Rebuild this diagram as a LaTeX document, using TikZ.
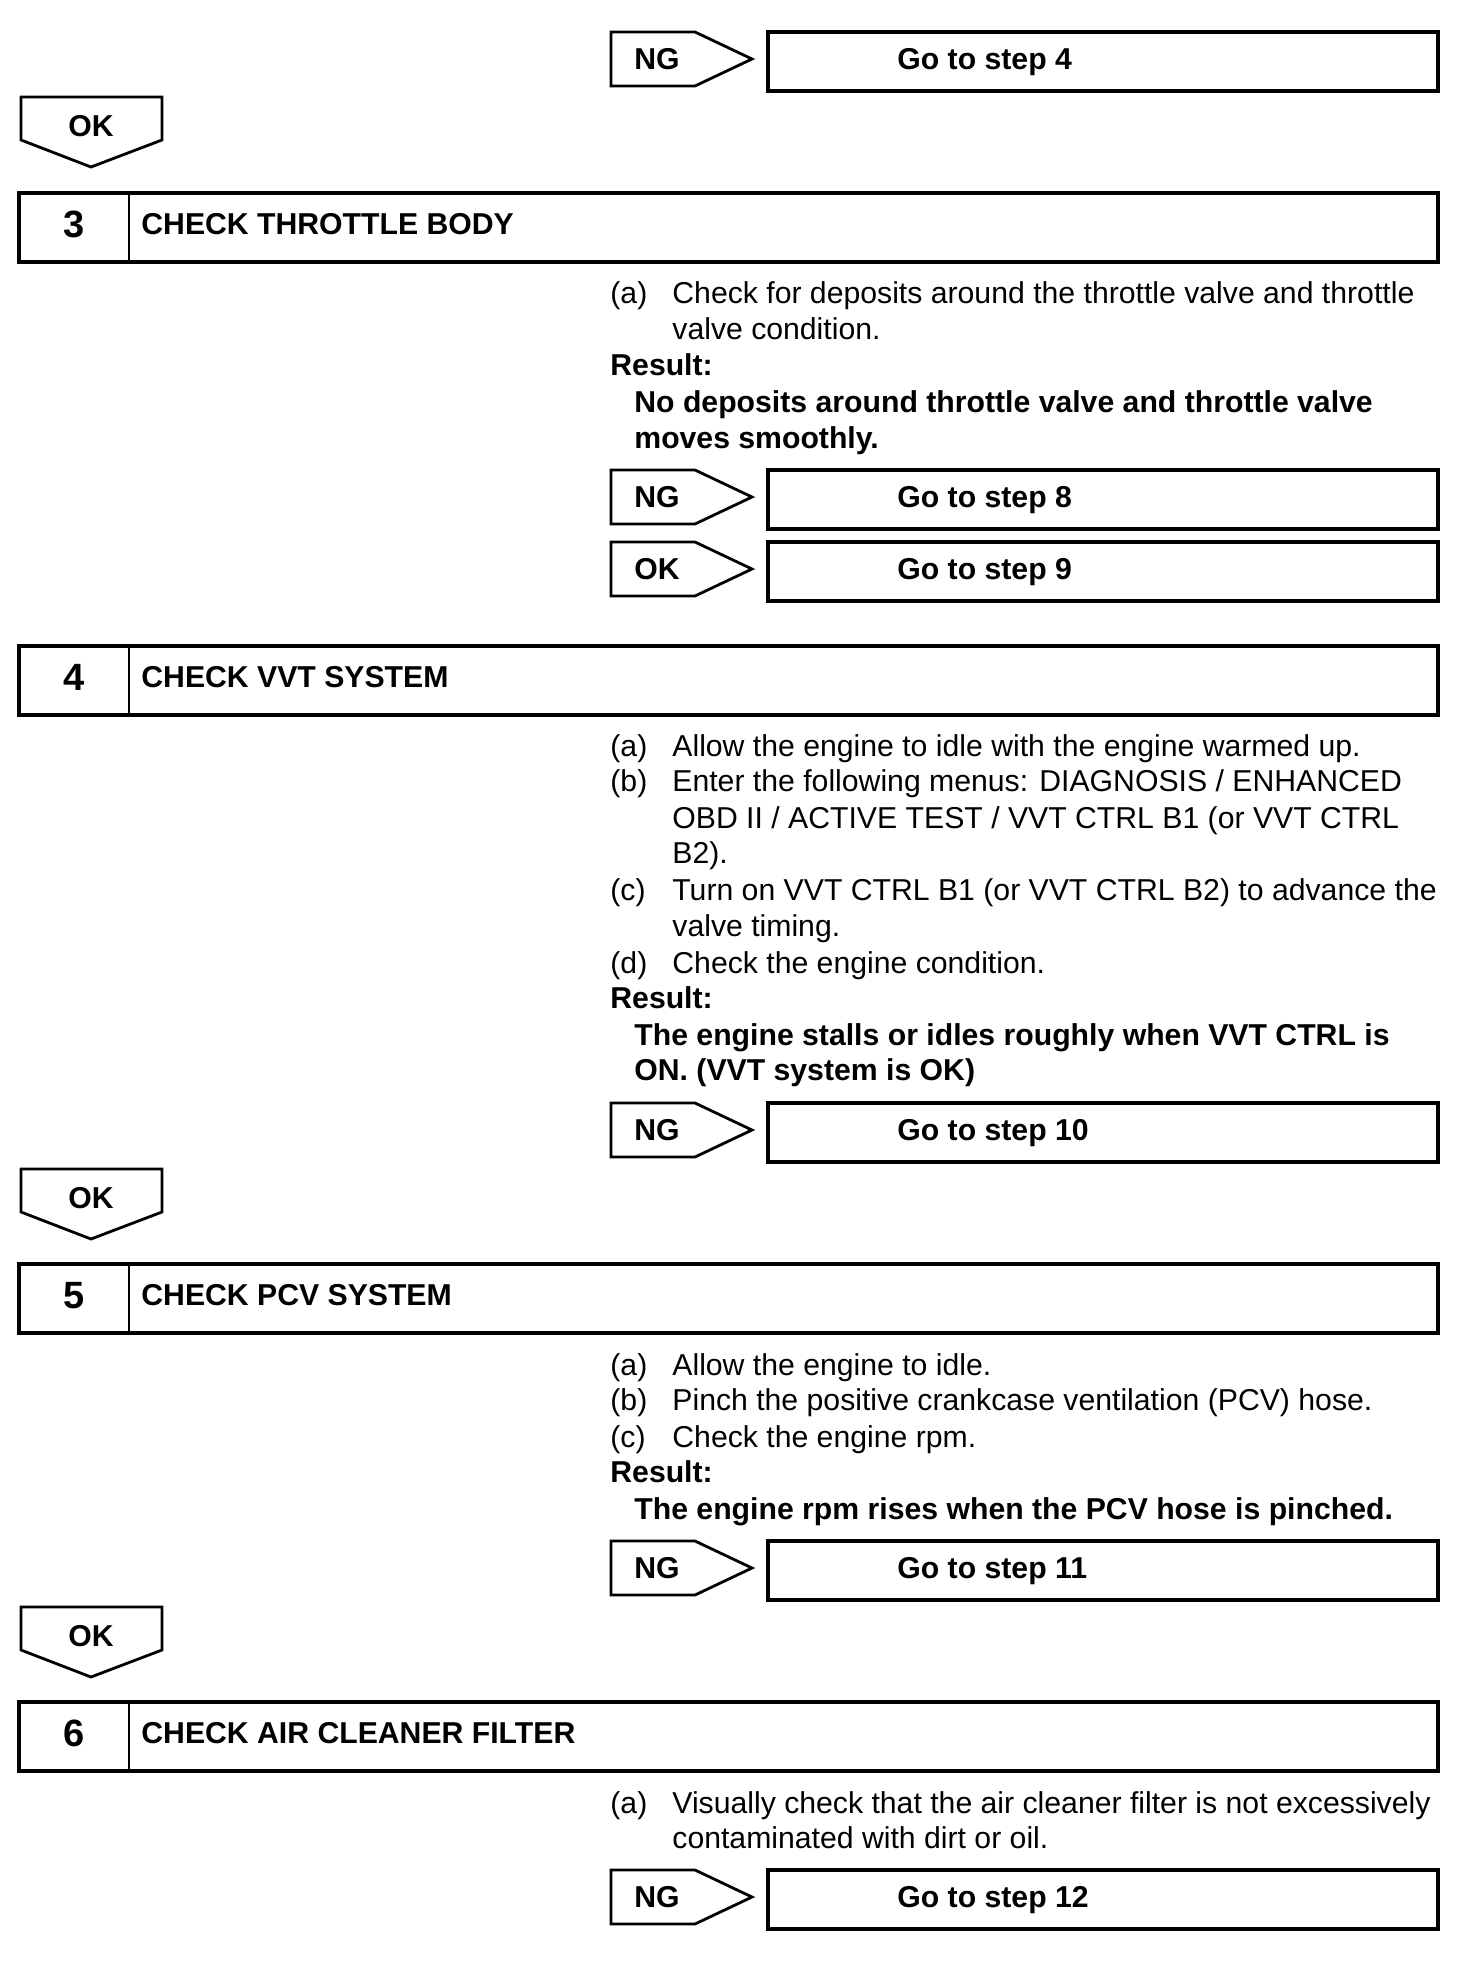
\documentclass[tikz,border=0pt]{standalone}
\usepackage{fontspec}
\setmainfont{Liberation Sans}

\tikzset{
  box/.style={line width=1.9pt},
  divider/.style={line width=1.4pt},
  tag/.style={line width=1.4pt, line join=miter},
  txt/.style={anchor=base west, inner sep=0pt, font=\fontsize{15.1}{18}\selectfont},
  bold/.style={txt, font=\bfseries\fontsize{15.1}{18}\selectfont},
  num/.style={anchor=base, inner sep=0pt, font=\bfseries\fontsize{19}{22}\selectfont},
}

% NG/OK tag pointing right, with its "go to" box
\newcommand{\gotag}[4]{%
  \draw[tag] (611,#2) -- (695,#2) -- (752,#2+27) -- (695,#2+54) -- (611,#2+54) -- cycle;
  \draw[box] (768,#2) rectangle (1438,#2+59);
  \node[bold] (#1tag) at (634,#2+37) {#3};
  \node[bold] (#1go) at (897,#2+37) {#4};
}
% OK tag pointing down
\newcommand{\oktag}[2]{%
  \draw[tag] (21,#2) -- (162,#2) -- (162,#2+43) -- (91,#2+70) -- (21,#2+43) -- cycle;
  \node[bold, anchor=base] (#1) at (91,#2+39) {OK};
}
% step header
\newcommand{\stephead}[4]{%
  \draw[box] (19,#2) rectangle (1438,#2+69);
  \draw[divider] (129,#2) -- (129,#2+69);
  \node[num] (#1num) at (74,#2+44) {#3};
  \node[bold] (#1title) at (141,#2+41) {#4};
}

\begin{document}
\begin{tikzpicture}[x=0.5pt, y=-0.5pt]
  \useasboundingbox (0,0) rectangle (1472,1982);

  \gotag{g4}{32}{NG}{Go to step 4}
  \oktag{ok3}{97}

  % step 3
  \stephead{s3}{193}{3}{CHECK THROTTLE BODY}
  \node[txt] (s3a) at (610,303) {(a)};
  \node[txt] (s3a1) at (672,303) {Check for deposits around the throttle valve and throttle};
  \node[txt] (s3a2) at (672,339) {valve condition.};
  \node[bold] (s3res) at (610,375) {Result:};
  \node[bold] (s3r1) at (634,412) {No deposits around throttle valve and throttle valve};
  \node[bold] (s3r2) at (634,448) {moves smoothly.};
  \gotag{g8}{470}{NG}{Go to step 8}
  \gotag{g9}{542}{OK}{Go to step 9}

  % step 4
  \stephead{s4}{646}{4}{CHECK VVT SYSTEM}
  \node[txt] (s4a) at (610,756) {(a)};
  \node[txt] (s4a1) at (672,756) {Allow the engine to idle with the engine warmed up.};
  \node[txt] (s4b) at (610,791) {(b)};
  \node[txt] (s4b1) at (672,791) {Enter the following menus: DIAGNOSIS / ENHANCED};
  \node[txt] (s4b2) at (672,828) {OBD II / ACTIVE TEST / VVT CTRL B1 (or VVT CTRL};
  \node[txt] (s4b3) at (672,863) {B2).};
  \node[txt] (s4c) at (610,900) {(c)};
  \node[txt] (s4c1) at (672,900) {Turn on VVT CTRL B1 (or VVT CTRL B2) to advance the};
  \node[txt] (s4c2) at (672,936) {valve timing.};
  \node[txt] (s4d) at (610,973) {(d)};
  \node[txt] (s4d1) at (672,973) {Check the engine condition.};
  \node[bold] (s4res) at (610,1008) {Result:};
  \node[bold] (s4r1) at (634,1045) {The engine stalls or idles roughly when VVT CTRL is};
  \node[bold] (s4r2) at (634,1080) {ON. (VVT system is OK)};
  \gotag{g10}{1103}{NG}{Go to step 10}
  \oktag{ok4}{1169}

  % step 5
  \stephead{s5}{1264}{5}{CHECK PCV SYSTEM}
  \node[txt] (s5a) at (610,1375) {(a)};
  \node[txt] (s5a1) at (672,1375) {Allow the engine to idle.};
  \node[txt] (s5b) at (610,1410) {(b)};
  \node[txt] (s5b1) at (672,1410) {Pinch the positive crankcase ventilation (PCV) hose.};
  \node[txt] (s5c) at (610,1447) {(c)};
  \node[txt] (s5c1) at (672,1447) {Check the engine rpm.};
  \node[bold] (s5res) at (610,1482) {Result:};
  \node[bold] (s5r1) at (634,1519) {The engine rpm rises when the PCV hose is pinched.};
  \gotag{g11}{1541}{NG}{Go to step 11}
  \oktag{ok5}{1607}

  % step 6
  \stephead{s6}{1702}{6}{CHECK AIR CLEANER FILTER}
  \node[txt] (s6a) at (610,1813) {(a)};
  \node[txt] (s6a1) at (672,1813) {Visually check that the air cleaner filter is not excessively};
  \node[txt] (s6a2) at (672,1848) {contaminated with dirt or oil.};
  \gotag{g12}{1870}{NG}{Go to step 12}
\end{tikzpicture}
\end{document}
